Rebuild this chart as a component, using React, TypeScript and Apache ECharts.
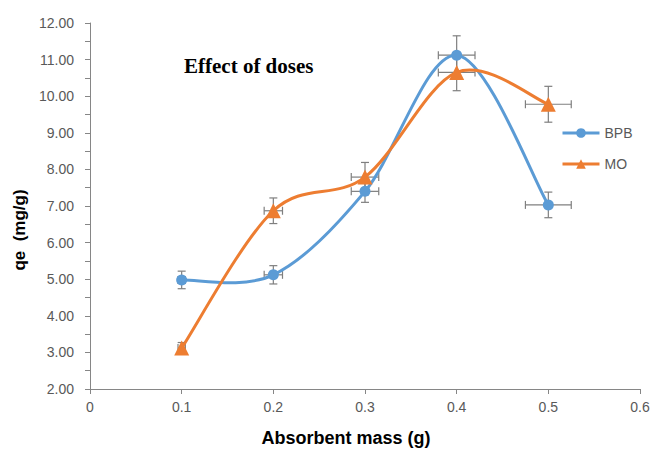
import React, { useEffect, useRef } from "react";
import * as echarts from "echarts";

const xValues = [0.1, 0.2, 0.3, 0.4, 0.5];
const bpb = [4.98, 5.12, 7.4, 11.12, 7.03];
const mo = [3.12, 6.87, 7.79, 10.65, 9.78];
const bpbYErr = [0.24, 0.25, 0.3, 0.53, 0.35];
const bpbXErr = [0.004, 0.01, 0.015, 0.02, 0.025];
const moYErr = [0.15, 0.35, 0.4, 0.5, 0.49];
const moXErr = [0.004, 0.01, 0.015, 0.02, 0.025];

const BLUE = "#5B9BD5";
const ORANGE = "#ED7D31";
const ERR = "#7F7F7F";
const SANS = "'Liberation Sans', Arial, sans-serif";

function pairs(ys: number[]) {
  return xValues.map((x, i) => [x, ys[i]]);
}

function errData(ys: number[], xe: number[], ye: number[]) {
  return xValues.map((x, i) => [x, ys[i], xe[i], ye[i]]);
}

function renderErr(params: any, api: any) {
  const x = api.value(0);
  const y = api.value(1);
  const xe = api.value(2);
  const ye = api.value(3);
  const top = api.coord([x, y + ye]);
  const bot = api.coord([x, y - ye]);
  const left = api.coord([x - xe, y]);
  const right = api.coord([x + xe, y]);
  const cap = 4;
  const style = { stroke: ERR, lineWidth: 1.2 };
  const children: any[] = [
    { type: "line", shape: { x1: top[0], y1: top[1], x2: bot[0], y2: bot[1] }, style },
    { type: "line", shape: { x1: top[0] - cap, y1: top[1], x2: top[0] + cap, y2: top[1] }, style },
    { type: "line", shape: { x1: bot[0] - cap, y1: bot[1], x2: bot[0] + cap, y2: bot[1] }, style },
    { type: "line", shape: { x1: left[0], y1: left[1], x2: right[0], y2: right[1] }, style },
    { type: "line", shape: { x1: left[0], y1: left[1] - cap, x2: left[0], y2: left[1] + cap }, style },
    { type: "line", shape: { x1: right[0], y1: right[1] - cap, x2: right[0], y2: right[1] + cap }, style },
  ];
  return { type: "group", children };
}

// Excel-like smoothed curve: cubic Bezier segments with Catmull-Rom style control points
function curveRenderer(ys: number[], color: string) {
  return (params: any, api: any) => {
    const i = params.dataIndex;
    const n = ys.length;
    if (i >= n - 1) return null;
    const pts = xValues.map((x, k) => api.coord([x, ys[k]]));
    const p0 = pts[Math.max(i - 1, 0)];
    const p1 = pts[i];
    const p2 = pts[i + 1];
    const p3 = pts[Math.min(i + 2, n - 1)];
    const t = 1 / 6;
    return {
      type: "bezierCurve",
      shape: {
        x1: p1[0],
        y1: p1[1],
        cpx1: p1[0] + (p2[0] - p0[0]) * t,
        cpy1: p1[1] + (p2[1] - p0[1]) * t,
        cpx2: p2[0] - (p3[0] - p1[0]) * t,
        cpy2: p2[1] - (p3[1] - p1[1]) * t,
        x2: p2[0],
        y2: p2[1],
      },
      style: { stroke: color, lineWidth: 3, fill: "none", lineCap: "round" },
    };
  };
}

export default function App() {
  const ref = useRef<HTMLDivElement>(null);
  useEffect(() => {
    if (!ref.current) return;
    const chart = echarts.init(ref.current, undefined, { renderer: "svg" });
    const labelFont = { fontFamily: SANS, fontSize: 14, color: "#595959" };
    chart.setOption({
      animation: false,
      backgroundColor: "#fff",
      grid: { left: 90, right: 14, top: 23, bottom: 61, containLabel: false },
      graphic: [
        {
          type: "text",
          left: 184,
          top: 55,
          style: {
            text: "Effect of doses",
            font: "bold 21px 'Liberation Serif', 'Times New Roman', serif",
            fill: "#000",
          },
        },
      ],
      legend: {
        orient: "vertical",
        left: 556,
        top: 121,
        itemWidth: 37,
        itemHeight: 12,
        itemGap: 17,
        textStyle: { fontFamily: SANS, color: "#595959", fontSize: 14 },
        lineStyle: { opacity: 1, width: 3 },
        data: ["BPB", "MO"],
      },
      xAxis: {
        type: "value",
        min: 0,
        max: 0.6,
        interval: 0.1,
        name: "Absorbent mass (g)",
        nameLocation: "middle",
        nameGap: 40,
        nameTextStyle: { fontFamily: SANS, fontSize: 18, fontWeight: "bold", color: "#000", padding: [0, 38, 0, 0] },
        axisLine: { show: true, lineStyle: { color: "#868686", width: 1 } },
        axisTick: { show: true, length: 5, lineStyle: { color: "#868686" } },
        axisLabel: { ...labelFont, margin: 11, formatter: (v: number) => (v === 0 ? "0" : v.toFixed(1)) },
        splitLine: { show: false },
      },
      yAxis: {
        type: "value",
        min: 2,
        max: 12,
        interval: 1,
        name: "qe  (mg/g)",
        nameLocation: "middle",
        nameGap: 54,
        nameTextStyle: { fontFamily: SANS, fontSize: 17, fontWeight: "bold", color: "#000", padding: [0, 48, 0, 0] },
        axisLine: { show: true, lineStyle: { color: "#868686", width: 1 } },
        axisTick: { show: true, length: 5, lineStyle: { color: "#868686" } },
        minorTick: { show: true, splitNumber: 2, length: 5, lineStyle: { color: "#868686" } },
        axisLabel: { ...labelFont, margin: 16, formatter: (v: number) => v.toFixed(2) },
        splitLine: { show: false },
      },
      series: [
        {
          type: "custom",
          name: "errBPB",
          renderItem: renderErr,
          data: errData(bpb, bpbXErr, bpbYErr),
          z: 1,
          silent: true,
        },
        {
          type: "custom",
          name: "errMO",
          renderItem: renderErr,
          data: errData(mo, moXErr, moYErr),
          z: 1,
          silent: true,
        },
        {
          type: "custom",
          name: "curveBPB",
          renderItem: curveRenderer(bpb, BLUE),
          data: pairs(bpb),
          z: 2,
          silent: true,
        },
        {
          type: "custom",
          name: "curveMO",
          renderItem: curveRenderer(mo, ORANGE),
          data: pairs(mo),
          z: 3,
          silent: true,
        },
        {
          type: "line",
          name: "BPB",
          data: pairs(bpb),
          symbol: "circle",
          symbolSize: 11,
          itemStyle: { color: BLUE },
          lineStyle: { color: BLUE, width: 3, opacity: 0 },
          z: 4,
        },
        {
          type: "line",
          name: "MO",
          data: pairs(mo),
          symbol: "triangle",
          symbolSize: 15,
          itemStyle: { color: ORANGE },
          lineStyle: { color: ORANGE, width: 3, opacity: 0 },
          z: 4,
        },
      ],
    });
    return () => chart.dispose();
  }, []);
  return <div ref={ref} style={{ width: 654, height: 452, position: "absolute", left: 0, top: 0 }} />;
}
